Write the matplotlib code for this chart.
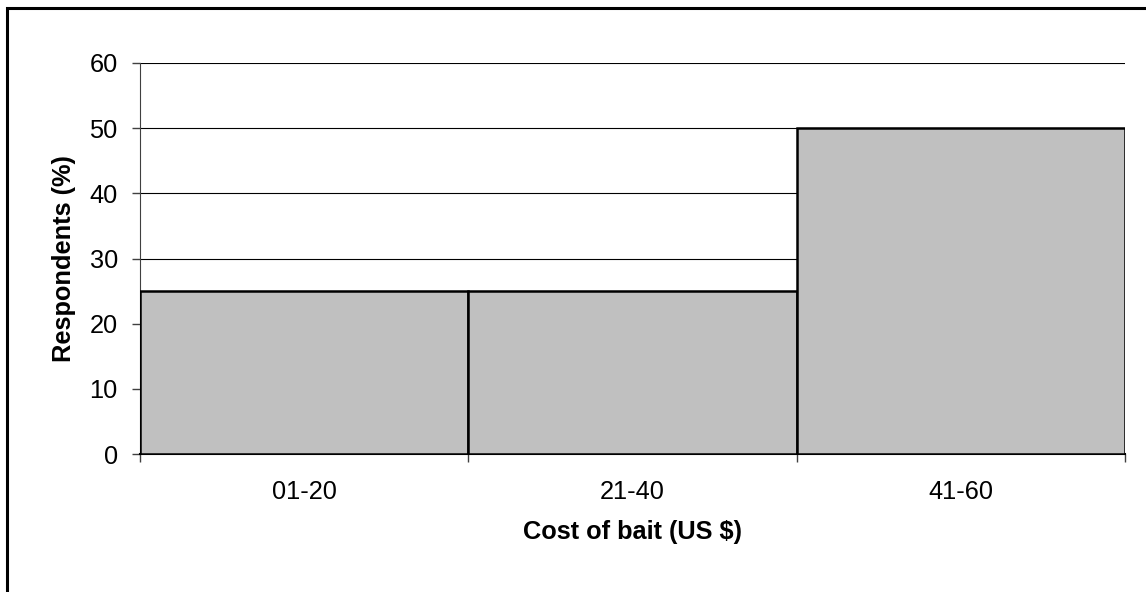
import matplotlib
matplotlib.use("Agg")
import matplotlib.pyplot as plt
from matplotlib.patches import Rectangle

categories = ["01-20", "21-40", "41-60"]
values = [25, 25, 50]
yticks = [0, 10, 20, 30, 40, 50, 60]

plt.rcParams['font.family'] = ['Liberation Sans', 'DejaVu Sans']

fig = plt.figure(figsize=(11.46, 5.92), dpi=100)
W, H = 1146, 592
ax = fig.add_axes([140 / W, 1 - 454 / H, (1125 - 140) / W, (454 - 63) / H])

xs = list(range(len(categories)))
ax.bar(xs, values, width=1.0, align='edge', color='#C0C0C0', edgecolor='black', linewidth=1.8, zorder=3)

ax.set_xlim(0, len(categories))
ax.set_ylim(0, 60)
ax.set_yticks(yticks)
ax.yaxis.grid(True, color='black', linewidth=0.8, zorder=0)
ax.set_axisbelow(True)

FS = 18.3
ax.set_xticks(list(range(len(categories) + 1)))
ax.set_xticklabels([])
ax.set_xticks([x + 0.5 for x in xs], minor=True)
ax.set_xticklabels(categories, minor=True)
ax.tick_params(axis='x', which='major', direction='out', length=6, width=1, color='#404040')
ax.tick_params(axis='x', which='minor', length=0, pad=19, labelsize=FS)
ax.tick_params(axis='y', direction='out', length=6, width=1, color='#404040', labelsize=FS, pad=10)

for s in ['top', 'right']:
    ax.spines[s].set_visible(False)
ax.spines['left'].set_color('#404040')
ax.spines['bottom'].set_color('black')
ax.spines['bottom'].set_linewidth(1.5)

ax.set_ylabel("Respondents (%)", fontsize=FS, fontweight='bold', labelpad=10)
ax.set_xlabel("Cost of bait (US $)", fontsize=FS, fontweight='bold', labelpad=11)

fig.patches.append(Rectangle((6.5 / W, -0.1), 1.2, 1 - 7.5 / H + 0.1, transform=fig.transFigure,
                             fill=False, edgecolor='black', linewidth=2.2))

fig.savefig("out.png", dpi=100)
